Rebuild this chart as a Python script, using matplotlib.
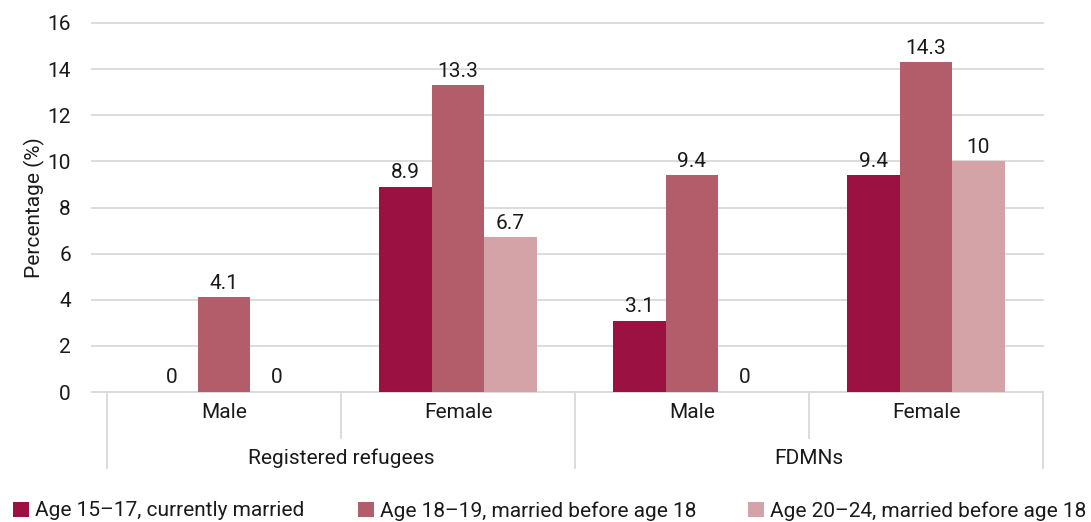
import matplotlib
matplotlib.use("Agg")
import matplotlib.pyplot as plt
from matplotlib.patches import Patch
import numpy as np

groups = ["Registered refugees", "FDMNs"]
sexes = ["Male", "Female", "Male", "Female"]
series_names = ["Age 15\u201317, currently married",
                "Age 18\u201319, married before age 18",
                "Age 20\u201324, married before age 18"]
age15_17 = [0, 8.9, 3.1, 9.4]
age18_19 = [4.1, 13.3, 9.4, 14.3]
age20_24 = [0, 6.7, 0, 10]
labels15_17 = ["0", "8.9", "3.1", "9.4"]
labels18_19 = ["4.1", "13.3", "9.4", "14.3"]
labels20_24 = ["0", "6.7", "0", "10"]
yticks = [0, 2, 4, 6, 8, 10, 12, 14, 16]

colors = ["#9B1141", "#B35D6B", "#D4A3A7"]
plt.rcParams['font.family'] = ['Roboto', 'DejaVu Sans']
FS = 15
TC = "#1a1a1a"

W, H = 1091, 522
fig = plt.figure(figsize=(W / 100, H / 100), dpi=100)
ax = fig.add_axes([107 / W, 130 / H, (1043 - 107) / W, (499 - 130) / H])

x = np.arange(len(sexes)) + 0.5
bw = 0.224
series = [age15_17, age18_19, age20_24]
lbls = [labels15_17, labels18_19, labels20_24]
for i, (vals, lab) in enumerate(zip(series, lbls)):
    pos = x + (i - 1) * bw
    ax.bar(pos, vals, width=bw, color=colors[i], zorder=3)
    for p, v, t in zip(pos, vals, lab):
        ax.text(p, v + 0.2, t, ha="center", va="bottom", fontsize=FS, color=TC)

ax.set_xlim(0, 4)
ax.set_ylim(0, 16)
ax.set_yticks(yticks)
ax.set_yticklabels([str(t) for t in yticks], fontsize=FS, color=TC)
ax.tick_params(axis="y", length=0, pad=26)
ax.set_xticks([])
for s in ax.spines.values():
    s.set_visible(False)

gridc = "#d9d9d9"
px = 4 / (1043 - 107)
for t in yticks:
    ax.plot([-15 * px, 4], [t, t], color=gridc, lw=1.3, zorder=1, clip_on=False)

ax.set_ylabel("Percentage (%)", fontsize=FS, color=TC, labelpad=2)

trans = ax.get_xaxis_transform()
def ypix(py):
    return (522 - py - 130) / (499 - 130)
for xb in [1, 3]:
    ax.plot([xb, xb], [0, ypix(438)], transform=trans, color=gridc, lw=1.3, clip_on=False)
for xb in [0, 2, 4]:
    ax.plot([xb, xb], [0, ypix(468)], transform=trans, color=gridc, lw=1.3, clip_on=False)
for xi, s in zip(x, sexes):
    ax.text(xi, ypix(413), s, transform=trans, ha="center", va="center", fontsize=FS, color=TC)
for gi, g in enumerate(groups):
    ax.text(1 + 2 * gi, ypix(458), g, transform=trans, ha="center", va="center", fontsize=FS, color=TC)

for c, name, lx in zip(colors, series_names, [13, 358, 748]):
    leg = fig.legend([Patch(facecolor=c, edgecolor="none")], [name], loc="center left",
                     bbox_to_anchor=(lx / W, 1 - 511 / H), frameon=False, fontsize=FS,
                     handlelength=0.75, handleheight=0.75, handletextpad=0.3,
                     borderaxespad=0, borderpad=0)
    for t in leg.get_texts():
        t.set_color(TC)

fig.savefig("out.png", dpi=100)
